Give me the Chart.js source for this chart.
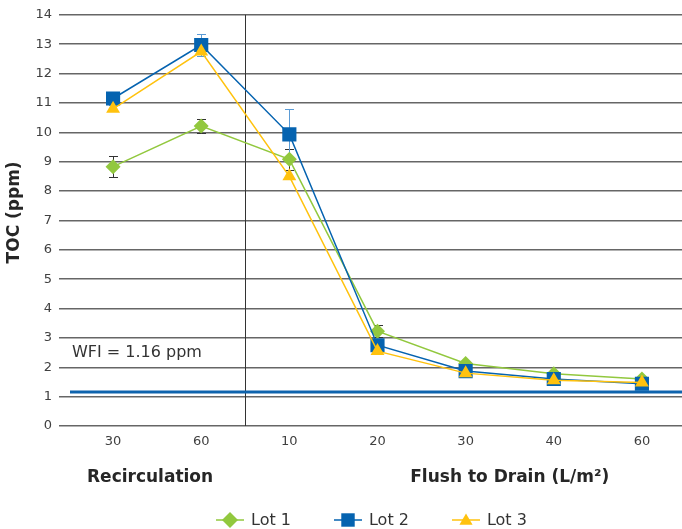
<!DOCTYPE html>
<html>
<head>
<meta charset="utf-8">
<title>TOC (ppm)</title>
<script src="https://cdn.jsdelivr.net/npm/chart.js@4.4.1/dist/chart.umd.min.js"></script>
<style>
  html, body { margin: 0; padding: 0; background: #fff; }
  /* plot runs slightly past the right edge, so the wrapper crops it */
  #wrap { position: relative; width: 682px; height: 529px; overflow: hidden; }
  #legend {
    position: absolute; left: 215px; top: 510px; display: flex;
    font: 16px "DejaVu Sans", sans-serif; color: #333; line-height: 20px;
  }
  .lg-item { display: flex; align-items: center; margin-right: 42px; }
  .lg-item canvas { margin-right: 6px; }
</style>
</head>
<body>
<div id="wrap">
  <canvas id="tocChart" width="686" height="529"></canvas>
  <div id="legend"></div>
</div>
<script>
// volumes: two recirculation points, then flush-to-drain points
const categories = ['30', '60', '10', '20', '30', '40', '60'];
const groupLabels = ['Recirculation', 'Flush to Drain (L/m²)'];

const lot1 = [8.83, 10.21, 9.08, 3.23, 2.13, 1.78, 1.6];
const lot2 = [11.15, 12.97, 9.93, 2.75, 1.87, 1.6, 1.44];
const lot3 = [10.8, 12.75, 8.5, 2.55, 1.8, 1.56, 1.48];

// +/- error on each point (0 = no bar)
const lot1Err = [0.35, 0.24, 0.35, 0.2, 0, 0, 0];
const lot2Err = [0.23, 0.38, 0.85, 0, 0, 0, 0];
const lot3Err = [0, 0, 0, 0, 0, 0, 0];

const yMin = 0;
const yMax = 14;
const yStep = 1;
const wfiLevel = 1.16;

const FONT = '"DejaVu Sans", Verdana, sans-serif';
Chart.defaults.font.family = FONT;

const series = [
  { label: 'Lot 1', data: lot1, err: lot1Err, color: '#92c83e', errColor: '#333333', style: 'rectRot', r: 7.5, order: 3 },
  { label: 'Lot 2', data: lot2, err: lot2Err, color: '#0563b0', errColor: '#5b9bd5', style: 'rect', r: 10, order: 2 },
  { label: 'Lot 3', data: lot3, err: lot3Err, color: '#ffc20e', errColor: '#e0a800', style: 'triangle', r: 8, order: 1 }
];

// error bars, section divider and WFI reference line go under the series
const backdropPlugin = {
  id: 'backdrop',
  beforeDatasetsDraw(chart) {
    const { ctx, chartArea: area, scales: { x, y } } = chart;
    ctx.save();

    // divider between recirculation and flush
    const dx = Math.round(x.getPixelForValue(1.5)) + 0.5;
    ctx.strokeStyle = '#333';
    ctx.lineWidth = 1;
    ctx.beginPath();
    ctx.moveTo(dx, area.top);
    ctx.lineTo(dx, area.bottom);
    ctx.stroke();

    // WFI level
    const wy = y.getPixelForValue(wfiLevel);
    ctx.strokeStyle = '#0e63ad';
    ctx.lineWidth = 3;
    ctx.beginPath();
    ctx.moveTo(area.left + 1, wy);
    ctx.lineTo(area.right, wy);
    ctx.stroke();

    ctx.fillStyle = '#333';
    ctx.font = '16px ' + FONT;
    ctx.textAlign = 'left';
    ctx.textBaseline = 'middle';
    ctx.fillText('WFI = ' + wfiLevel + ' ppm', area.left + 3, y.getPixelForValue(2.5));

    // error bars
    chart.data.datasets.forEach((ds, i) => {
      const meta = chart.getDatasetMeta(i);
      ctx.strokeStyle = ds.errColor;
      ctx.lineWidth = 1;
      ds.errors.forEach((e, j) => {
        if (!e) return;
        const px = Math.round(meta.data[j].x) + 0.5;
        const top = Math.round(y.getPixelForValue(ds.data[j] + e)) + 0.5;
        const bot = Math.round(y.getPixelForValue(ds.data[j] - e)) + 0.5;
        ctx.beginPath();
        ctx.moveTo(px, top); ctx.lineTo(px, bot);
        ctx.moveTo(px - 4.5, top); ctx.lineTo(px + 4.5, top);
        ctx.moveTo(px - 4.5, bot); ctx.lineTo(px + 4.5, bot);
        ctx.stroke();
      });
    });
    ctx.restore();
  },
  afterDraw(chart) {
    const { ctx, chartArea: area, scales: { x } } = chart;
    ctx.save();
    ctx.fillStyle = '#262626';
    ctx.font = 'bold 17px ' + FONT;
    ctx.textAlign = 'center';
    ctx.textBaseline = 'middle';
    const gy = area.bottom + 52;
    ctx.fillText(groupLabels[0], x.getPixelForValue(0.42), gy);
    ctx.fillText(groupLabels[1], x.getPixelForValue(4.5), gy);

    // y axis title
    ctx.translate(15, (area.top + area.bottom) / 2 - 8);
    ctx.rotate(-Math.PI / 2);
    ctx.fillText('TOC (ppm)', 0, 0);
    ctx.restore();
  }
};

const chart = new Chart(document.getElementById('tocChart'), {
  type: 'line',
  data: {
    labels: categories,
    datasets: series.map(s => ({
      label: s.label,
      data: s.data,
      errors: s.err,
      errColor: s.errColor,
      order: s.order,
      borderColor: s.color,
      backgroundColor: s.color,
      borderWidth: 1.5,
      tension: 0,
      pointStyle: s.style,
      pointRadius: s.r,
      pointHoverRadius: s.r,
      pointBackgroundColor: s.color,
      pointBorderWidth: 0
    }))
  },
  options: {
    responsive: false,
    animation: false,
    layout: { autoPadding: false, padding: { top: 14, right: 0, bottom: 0, left: 0 } },
    plugins: {
      legend: { display: false },
      tooltip: { enabled: false }
    },
    scales: {
      x: {
        offset: true,
        grid: { display: false, drawTicks: false },
        border: { display: false },
        ticks: { padding: 8, color: '#404040', font: { size: 13 } },
        afterFit: s => { s.height = 103; }
      },
      y: {
        min: yMin,
        max: yMax,
        ticks: { stepSize: yStep, padding: 7, color: '#404040', font: { size: 13 } },
        grid: { color: '#666', lineWidth: 1.5, tickLength: 10 },
        border: { display: false },
        afterFit: s => { s.width = 69; }
      }
    }
  },
  plugins: [backdropPlugin]
});

// legend: line with marker, then label
function drawMarker(ctx, style, cx, cy, r) {
  ctx.beginPath();
  if (style === 'rect') {
    const h = r * Math.SQRT1_2;
    ctx.rect(cx - h, cy - h, 2 * h, 2 * h);
  } else if (style === 'rectRot') {
    ctx.moveTo(cx, cy - r); ctx.lineTo(cx + r, cy);
    ctx.lineTo(cx, cy + r); ctx.lineTo(cx - r, cy);
    ctx.closePath();
  } else {
    for (let k = 0; k < 3; k++) {
      const a = k * 2 * Math.PI / 3;
      const px = cx + Math.sin(a) * r, py = cy - Math.cos(a) * r;
      k ? ctx.lineTo(px, py) : ctx.moveTo(px, py);
    }
    ctx.closePath();
  }
  ctx.fill();
}

const legendEl = document.getElementById('legend');
series.forEach(s => {
  const item = document.createElement('div');
  item.className = 'lg-item';
  const icon = document.createElement('canvas');
  icon.width = 30; icon.height = 20;
  const c = icon.getContext('2d');
  c.strokeStyle = s.color; c.fillStyle = s.color; c.lineWidth = 1.5;
  c.beginPath(); c.moveTo(1, 10); c.lineTo(29, 10); c.stroke();
  drawMarker(c, s.style, 15, s.style === 'triangle' ? 11 : 10, s.style === 'rectRot' ? 8 : s.r * 0.95);
  const txt = document.createElement('span');
  txt.textContent = s.label;
  item.appendChild(icon);
  item.appendChild(txt);
  legendEl.appendChild(item);
});
</script>
</body>
</html>
